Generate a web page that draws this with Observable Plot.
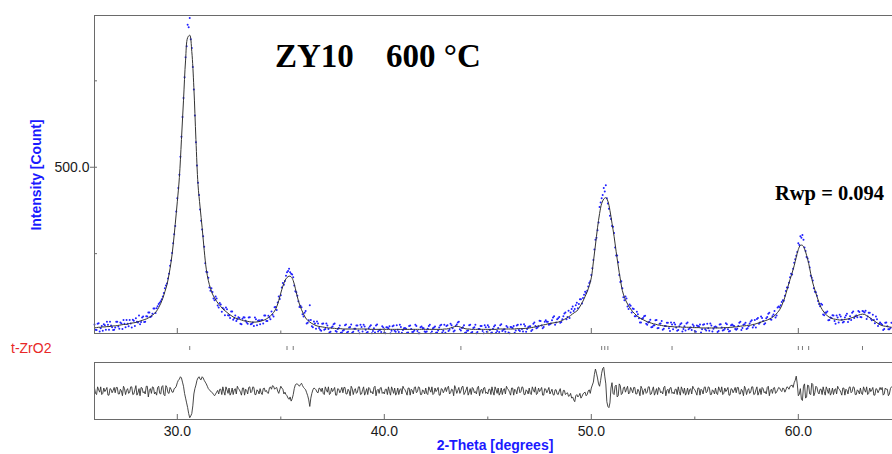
<!DOCTYPE html>
<html><head><meta charset="utf-8">
<script src="https://cdn.jsdelivr.net/npm/d3@7"></script>
<script src="https://cdn.jsdelivr.net/npm/@observablehq/plot@0.6"></script>
<style>
html,body{margin:0;padding:0;background:#fff;}
#wrap{position:relative;width:892px;height:454px;overflow:hidden;background:#fff;font-family:"Liberation Sans",Arial,sans-serif;}
#wrap > svg{position:absolute;left:0;}
</style></head><body><div id="wrap"></div>
<script>
// 2-theta grid of the scan: main points at 26.00, 26.10, ... and half-step points at 26.05, 26.15, ...
const startTheta = 26.0, stepTheta = 0.1, halfOffset = 0.05;

// observed intensity (counts) on the main grid, one row per degree
const observed = [
45,29,49,34,27,43,53,30,42,29,
36,53,33,48,58,37,47,58,36,56,
63,51,46,65,52,69,80,67,76,91,
92,104,112,126,150,164,192,230,280,330,
410,478,588,700,818,912,932,845,725,572,
455,378,320,270,198,180,143,139,115,120,
94,103,93,72,89,71,83,59,71,60,
64,46,66,56,47,66,47,41,60,56,
46,58,71,55,70,60,73,95,87,126,
130,165,171,196,206,192,182,141,128,96,
95,68,84,50,101,40,54,33,48,30,
47,30,48,32,24,39,48,24,35,21,
27,43,22,36,45,24,33,42,20,38,
44,30,23,39,20,34,42,25,30,40,
21,37,34,20,40,27,43,23,38,29,
35,21,41,32,24,44,26,20,39,34,
23,33,44,25,36,21,28,42,22,44,
41,26,47,34,28,45,53,28,37,21,
27,43,21,35,44,23,32,41,20,37,
43,29,22,39,21,35,43,26,31,41,
22,38,35,21,42,29,45,25,41,32,
39,26,47,41,36,56,42,38,57,53,
46,57,69,51,63,50,60,77,60,85,
80,97,90,108,104,118,122,140,143,165,
188,232,290,318,385,410,440,448,395,360,
330,310,245,225,168,150,115,120,90,99,
91,69,82,63,51,64,70,44,53,37,
42,57,34,47,55,33,41,50,26,45,
50,36,29,46,25,40,48,31,36,45,
26,42,39,22,44,31,47,27,42,33,
39,23,45,36,29,49,31,26,45,41,
30,41,53,35,46,32,40,54,36,58,
61,47,68,55,49,67,79,59,74,65,
94,95,110,114,142,152,182,190,224,244,
280,300,304,268,240,226,186,172,140,128,
104,105,74,80,83,58,64,71,47,65,
73,59,53,71,52,69,79,64,71,84,
67,84,80,61,79,62,73,49,60,47,
47,29,50,40,31,50
];

// observed intensity on the half-step grid (26.05 ... 64.45)
const observedHalf = [
30,47,25,41,46,30,44,53,37,30,
53,39,51,32,47,58,40,48,59,41,
53,71,52,68,53,68,80,69,91,78,
98,108,118,136,158,178,215,252,306,372,
440,530,645,760,850,905,870,790,650,505,
420,345,300,222,196,152,150,120,126,100,
107,82,89,94,72,64,83,63,55,66,
47,62,65,51,65,46,51,65,43,57,
57,48,71,55,65,83,68,96,109,119,
152,160,186,200,196,190,158,138,112,99,
75,79,48,57,58,37,48,54,35,27,
48,32,42,22,36,46,26,32,42,22,
29,45,24,38,21,33,42,27,44,25,
39,21,34,43,26,22,45,29,23,36,
20,36,40,27,42,24,30,44,21,34,
33,22,42,23,28,41,20,37,35,25,
25,41,20,34,39,22,36,44,27,21,
43,30,43,25,41,51,31,35,43,22,
28,44,23,37,20,32,41,26,43,24,
38,20,33,43,26,23,46,30,24,37,
20,37,41,28,44,26,32,46,24,37,
40,30,51,34,40,55,34,53,53,44,
48,65,44,60,67,52,69,80,67,64,
90,84,101,92,118,106,131,136,155,170,
208,262,296,340,398,420,430,410,380,350,
328,268,245,188,170,124,126,97,103,80,
90,69,75,51,62,69,47,51,59,38,
43,58,35,48,30,41,50,34,51,31,
45,27,40,49,32,28,51,35,29,41,
24,41,45,31,46,28,34,48,25,38,
37,26,46,28,33,46,25,43,42,32,
33,50,29,44,50,34,48,57,42,36,
64,51,64,46,63,76,60,69,84,71,
97,101,115,128,152,166,192,206,234,255,
275,296,290,258,236,210,180,150,138,113,
98,102,72,79,57,65,72,55,71,51,
68,51,65,76,60,58,83,69,66,81,
66,83,85,68,79,57,58,68,41,51,
44,32,51,31,35
];

// calculated (fitted) intensity on the main grid
const calculated = [
36,36,37,37,38,38,39,39,40,41,
41,42,43,44,45,45,46,48,49,50,
51,53,55,57,59,61,64,68,72,77,
84,94,106,121,140,160,190,226,275,335,
400,470,580,694,810,875,882,835,730,580,
450,385,325,260,205,172,150,133,122,112,
104,97,90,85,80,75,71,67,64,62,
60,58,56,55,54,53,52,52,52,53,
54,56,58,61,65,70,76,84,96,114,
136,156,172,181,185,183,172,150,125,104,
88,75,64,57,52,48,45,42,40,39,
38,37,36,35,35,34,34,33,33,33,
32,32,32,32,32,32,32,32,32,32,
32,32,32,31,31,31,31,31,31,31,
31,31,31,31,31,31,31,31,31,31,
31,31,31,31,31,31,31,31,31,31,
31,31,31,31,31,31,31,31,31,32,
32,33,35,37,39,40,39,37,35,33,
32,32,31,31,31,31,31,31,31,31,
31,31,31,31,31,32,32,32,32,32,
32,32,32,32,33,33,33,33,34,34,
35,36,37,38,40,41,43,44,45,47,
48,49,50,51,52,54,57,60,63,67,
71,76,80,84,92,102,113,126,140,157,
180,226,275,325,366,395,408,412,402,375,
338,300,256,214,177,143,124,110,99,90,
82,76,70,66,62,59,56,53,51,49,
47,46,44,43,42,41,40,40,39,39,
38,38,38,38,37,37,37,37,37,36,
36,36,36,35,35,35,35,35,35,35,
35,35,35,35,36,36,36,37,37,38,
38,39,40,41,41,42,43,43,45,46,
48,50,52,54,56,58,61,64,68,73,
80,88,100,115,134,155,175,194,215,240,
262,274,274,264,245,222,192,165,145,126,
109,94,84,76,70,66,63,61,60,59,
58,58,59,60,61,63,65,67,69,72,
74,75,74,71,67,63,58,54,50,46,
43,41,40,39,38,37
];

// difference curve on the main grid
const residual = [
5,-6,2,7,-4,-1,6,-7,3,1,
-3,6,-5,0,8,-6,4,-2,7,-5,
9,-3,-8,5,-1,8,-10,4,7,-5,
-7,8,-5,9,-8,6,-4,3,-2,5,
14,20,22,8,-12,-28,-45,-38,-5,10,
22,20,24,18,12,4,0,-3,-8,-2,
-5,3,7,-7,2,5,-3,-6,4,8,
2,-7,5,3,-5,7,-1,6,-6,0,
4,-6,5,1,-4,7,9,3,6,-4,
8,3,-2,-8,-14,-17,-6,10,12,8,
13,6,2,-8,-26,-4,5,2,-3,4,
5,-6,2,7,-4,-1,6,-7,3,1,
-3,6,-5,0,8,-6,4,-2,7,-5,
7,-2,-6,4,-1,6,-8,3,5,-4,
-5,3,7,-7,2,5,-3,-6,4,8,
2,-7,5,3,-5,7,-1,6,-6,0,
5,-6,2,7,-4,-1,6,-7,3,1,
-1,8,-3,2,9,-4,6,0,8,-3,
7,-2,-6,4,-1,6,-8,3,5,-4,
-5,3,7,-7,2,5,-3,-6,4,8,
2,-7,5,3,-5,7,-1,6,-6,0,
5,-6,2,7,-4,-1,6,-7,3,1,
-5,3,-7,2,-6,4,-8,1,-4,-9,
-4,-10,-18,-6,-8,-12,-5,-2,-6,2,
5,15,37,22,8,30,40,12,-26,-20,
14,-6,10,-8,9,-4,7,3,-5,6,
-3,6,-5,0,8,-6,4,-2,7,-5,
7,-2,-6,4,-1,6,-8,3,5,-4,
-5,3,7,-7,2,5,-3,-6,4,8,
2,-7,5,3,-5,7,-1,6,-6,0,
5,-6,2,7,-4,-1,6,-7,3,1,
-3,6,-5,0,8,-6,4,-2,7,-5,
7,-2,-6,4,-1,6,-8,3,5,-4,
2,5,-1,4,2,6,8,10,14,25,
-8,4,-16,12,-10,9,-6,11,-3,6,
-5,3,7,-7,2,5,-3,-6,4,8,
2,-7,5,3,-5,7,-1,6,-6,0,
5,-6,2,7,-4,-1,6,-7,3,1,
2,-7,5,3,-5,7
];

// difference curve on the half-step grid
const residualHalf = [
-4,7,-2,-6,5,2,-7,4,-3,6,
6,-5,3,-8,4,1,-4,7,-6,2,
-7,4,6,-3,-5,8,1,-4,6,-2,
6,-4,7,-6,9,-3,6,-2,4,8,
18,24,15,-4,-20,-38,-42,-25,4,18,
24,19,22,15,8,2,-2,-6,-5,1,
3,-6,-1,7,-4,-7,5,2,-5,4,
-2,5,-7,1,6,-3,7,-6,2,-5,
-3,4,-1,-3,5,3,8,5,0,2,
5,-5,-6,-12,-10,-13,4,12,10,11,
9,4,-3,-15,-12,2,4,-2,5,-1,
-4,7,-2,-6,5,2,-7,4,-3,6,
6,-5,3,-8,4,1,-4,7,-6,2,
-7,4,6,-3,-5,8,1,-4,6,-2,
3,-6,-1,7,-4,-7,5,2,-5,4,
-2,5,-7,1,6,-3,7,-6,2,-5,
-4,7,-2,-6,5,2,-7,4,-3,6,
6,-5,3,-8,4,1,-4,7,-6,2,
-7,4,6,-3,-5,8,1,-4,6,-2,
3,-6,-1,7,-4,-7,5,2,-5,4,
-2,5,-7,1,6,-3,7,-6,2,-5,
-4,7,-2,-6,5,2,-7,4,-3,6,
-1,-6,2,-5,0,-7,1,-6,-3,-8,
-12,-15,-8,-10,-4,-9,-3,-8,0,-4,
10,28,30,12,18,38,25,-18,-28,5,
-4,8,-10,12,-6,5,-2,8,-3,2,
6,-5,3,-8,4,1,-4,7,-6,2,
-7,4,6,-3,-5,8,1,-4,6,-2,
3,-6,-1,7,-4,-7,5,2,-5,4,
-2,5,-7,1,6,-3,7,-6,2,-5,
-4,7,-2,-6,5,2,-7,4,-3,6,
6,-5,3,-8,4,1,-4,7,-6,2,
-7,4,6,-3,-5,8,1,-4,6,-2,
6,1,5,-2,7,3,9,6,18,12,
-5,-14,8,-12,10,-5,13,-8,8,-2,
3,-6,-1,7,-4,-7,5,2,-5,4,
-2,5,-7,1,6,-3,7,-6,2,-5,
-4,7,-2,-6,5,2,-7,4,-3,6,
6,-5,3,-8,4
];

// t-ZrO2 reflection positions (2-theta)
const reflections = [30.6, 35.3, 35.6, 43.7, 50.5, 50.65, 50.8, 53.9, 60.0, 60.2, 60.5, 63.1];

const majorTicks = [30, 40, 50, 60];
const minorTicks = [35, 45, 55];
const yMajorTicks = [500];
const yMinorTicks = [250, 750];
const xDomain = [26, 64.55];
const yDomain = [19, 939];
const resDomain = [-48, 48];

const frameColor = "#6a6a6a";
const theta = observed.map((_, i) => +(startTheta + i * stepTheta).toFixed(2));
const thetaHalf = observedHalf.map((_, i) => +(startTheta + halfOffset + i * stepTheta).toFixed(2));

const obsData = [];
const resData = [];
theta.forEach((t, i) => {
  obsData.push({t, v: observed[i]});
  resData.push({t, v: residual[i]});
  if (i < thetaHalf.length) {
    obsData.push({t: thetaHalf[i], v: observedHalf[i]});
    resData.push({t: thetaHalf[i], v: residualHalf[i]});
  }
});
const calcData = theta.map((t, i) => ({t, v: calculated[i]}));

const wrap = document.getElementById("wrap");

// main panel
const main = Plot.plot({
  width: 892, height: 345,
  marginLeft: 94, marginRight: 0, marginTop: 15, marginBottom: 12,
  x: {domain: xDomain, axis: null},
  y: {domain: yDomain, axis: null},
  style: {background: "transparent", overflow: "visible", fontFamily: "Liberation Sans, Arial, sans-serif"},
  marks: [
    Plot.dot(obsData, {x: "t", y: "v", r: 1, fill: "#2020ff", stroke: null}),
    Plot.line(calcData, {x: "t", y: "v", stroke: "#333333", strokeWidth: 1, curve: "catmull-rom"}),
    Plot.ruleY([yDomain[1]], {stroke: frameColor}),
    Plot.ruleY([yDomain[0]], {stroke: frameColor}),
    Plot.ruleX([xDomain[0]], {stroke: frameColor}),
    Plot.ruleX(majorTicks, {x: d => d, y1: yDomain[0], y2: yDomain[0], insetTop: -5, stroke: frameColor}),
    Plot.ruleX(minorTicks, {x: d => d, y1: yDomain[0], y2: yDomain[0], insetTop: -2.5, stroke: frameColor}),
    Plot.ruleY(yMajorTicks, {y: d => d, x1: xDomain[0], x2: xDomain[0], insetLeft: -4, insetRight: -3, stroke: frameColor}),
    Plot.ruleY(yMinorTicks, {y: d => d, x1: xDomain[0], x2: xDomain[0], insetRight: -3, stroke: frameColor}),
    Plot.text(yMajorTicks, {x: xDomain[0], y: d => d, text: d => d.toFixed(1), textAnchor: "end", dx: -5, fontSize: 14, fill: "#1a1a1a"})
  ]
});
main.style.top = "0px";
wrap.appendChild(main);

// reflection markers
const refl = Plot.plot({
  width: 892, height: 20,
  marginLeft: 94, marginRight: 0, marginTop: 8, marginBottom: 8,
  x: {domain: xDomain, axis: null},
  style: {background: "transparent", overflow: "visible"},
  marks: [Plot.tickX(reflections, {x: d => d, stroke: "#7a7a7a", strokeWidth: 1})]
});
refl.style.top = "338px";
wrap.appendChild(refl);

// residual panel
const res = Plot.plot({
  width: 892, height: 99,
  marginLeft: 94, marginRight: 0, marginTop: 7, marginBottom: 35,
  x: {domain: xDomain, axis: null},
  y: {domain: resDomain, axis: null},
  style: {background: "transparent", overflow: "visible", fontFamily: "Liberation Sans, Arial, sans-serif"},
  marks: [
    Plot.line(resData, {x: "t", y: "v", stroke: "#333333", strokeWidth: 0.9}),
    Plot.ruleY([resDomain[1]], {stroke: frameColor}),
    Plot.ruleY([resDomain[0]], {stroke: frameColor}),
    Plot.ruleX([xDomain[0]], {stroke: frameColor}),
    Plot.ruleX(majorTicks, {x: d => d, y1: resDomain[0], y2: resDomain[0], insetTop: -5, stroke: frameColor}),
    Plot.ruleX(minorTicks, {x: d => d, y1: resDomain[0], y2: resDomain[0], insetTop: -2.5, stroke: frameColor}),
    Plot.text(majorTicks, {x: d => d, y: resDomain[0], text: d => d.toFixed(1), lineAnchor: "top", dy: 7, fontSize: 14, fill: "#1a1a1a"})
  ]
});
res.style.top = "355px";
wrap.appendChild(res);

// annotation overlay
const ns = "http://www.w3.org/2000/svg";
const ov = document.createElementNS(ns, "svg");
ov.setAttribute("width", 892); ov.setAttribute("height", 454);
ov.style.position = "absolute"; ov.style.left = "0"; ov.style.top = "0"; ov.style.pointerEvents = "none";
function addText(str, attrs) {
  const t = document.createElementNS(ns, "text");
  for (const k in attrs) t.setAttribute(k, attrs[k]);
  t.textContent = str;
  ov.appendChild(t);
}
const serif = "'Liberation Serif','Times New Roman',serif";
const sans = "'Liberation Sans',Arial,sans-serif";
addText("ZY10", {x: 275, y: 67, "font-family": serif, "font-weight": "bold", "font-size": 33, fill: "#000"});
addText("600 °C", {x: 386, y: 67, "font-family": serif, "font-weight": "bold", "font-size": 33, fill: "#000"});
addText("Rwp = 0.094", {x: 775, y: 200, "font-family": serif, "font-weight": "bold", "font-size": 20.5, fill: "#000"});
addText("Intensity [Count]", {transform: "translate(41,175) rotate(-90)", "text-anchor": "middle", "font-family": sans, "font-weight": "bold", "font-size": 14, fill: "#1a1aff"});
addText("2-Theta [degrees]", {x: 495, y: 450, "text-anchor": "middle", "font-family": sans, "font-weight": "bold", "font-size": 14, fill: "#1a1aff"});
addText("t-ZrO2", {x: 11, y: 353, "font-family": sans, "font-size": 14, fill: "#e82828"});
wrap.appendChild(ov);
</script>
</body></html>
